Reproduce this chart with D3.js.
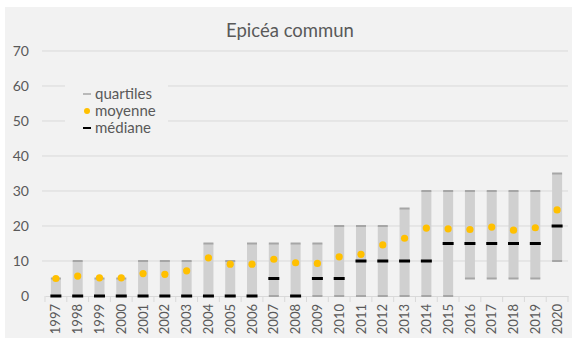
<!DOCTYPE html>
<html><head><meta charset="utf-8">
<script src="https://cdn.jsdelivr.net/npm/d3@7"></script>
<style>body{margin:0;background:#fff;}svg{display:block;font-family:Lato,"Open Sans",sans-serif;}</style>
</head><body>
<svg id="c" width="577" height="342"></svg>
<script>
const years = ["1997","1998","1999","2000","2001","2002","2003","2004","2005","2006","2007","2008","2009","2010","2011","2012","2013","2014","2015","2016","2017","2018","2019","2020"];
const q1 =    [0,0,0,0,0,0,0,0,0,0,0,0,0,0,0,0,0,0,0,5,5,5,5,10];
const q3 =    [5,10,5,5,10,10,10,15,10,15,15,15,15,20,20,20,25,30,30,30,30,30,30,35];
const mean =  [5.0,5.7,5.2,5.2,6.4,6.2,7.2,10.9,9.1,9.1,10.5,9.5,9.3,11.2,11.9,14.6,16.5,19.4,19.2,19.0,19.7,18.8,19.5,24.6];
const median =[0,0,0,0,0,0,0,0,0,0,5,0,5,5,10,10,10,10,15,15,15,15,15,20];
const yTicks = [0,10,20,30,40,50,60,70];
const title = "Epicéa commun";
const legendLabels = ["quartiles","moyenne","médiane"];

const svg = d3.select("#c");
svg.append("rect").attr("x",5).attr("y",7).attr("width",567).attr("height",331).attr("fill","#f2f2f2");

const x = d3.scaleBand().domain(years).range([45,568]).padding(0);
const y = d3.scaleLinear().domain([0,70]).range([296,51]);

// gridlines
svg.append("g").selectAll("line").data(yTicks.filter(d=>d>0)).join("line")
  .attr("x1",42).attr("x2",568).attr("y1",d=>y(d)).attr("y2",d=>y(d))
  .attr("stroke","#d9d9d9").attr("stroke-width",1);

// y labels
svg.append("g").selectAll("text").data(yTicks).join("text")
  .attr("x",29).attr("y",d=>y(d)).attr("dy","0.35em").attr("text-anchor","end")
  .attr("font-size",14).attr("fill","#595959").text(d=>d);

// x axis
const xAxis = d3.axisBottom(x).tickSize(0).tickSizeOuter(0);
const gx = svg.append("g").attr("transform","translate(0,296)").call(xAxis);
gx.select(".domain").attr("stroke","#d9d9d9");
gx.selectAll(".tick text").attr("transform","rotate(-90)").attr("text-anchor","end")
  .attr("x",-8).attr("y",0).attr("dy","0.35em").attr("font-size",13).attr("fill","#595959")
  .attr("font-family","Lato,'Open Sans',sans-serif");
// category boundary ticks
svg.append("g").selectAll("line").data(years.concat(["end"])).join("line")
  .attr("x1",(d,i)=>45+i*x.bandwidth()).attr("x2",(d,i)=>45+i*x.bandwidth())
  .attr("y1",296).attr("y2",302).attr("stroke","#d9d9d9");

const bw = 10;
const g = svg.append("g");
years.forEach((yr,i)=>{
  const cx = x(yr)+x.bandwidth()/2;
  g.append("rect").attr("x",cx-bw/2).attr("width",bw)
    .attr("y",y(q3[i])).attr("height",y(q1[i])-y(q3[i])).attr("fill","#d0d0d0");
  [q1[i],q3[i]].forEach(v=>{
    g.append("line").attr("x1",cx-bw/2).attr("x2",cx+bw/2).attr("y1",y(v)).attr("y2",y(v))
      .attr("stroke","#a6a6a6").attr("stroke-width",2);
  });
});
years.forEach((yr,i)=>{
  const cx = x(yr)+x.bandwidth()/2;
  g.append("line").attr("x1",cx-5.5).attr("x2",cx+5.5).attr("y1",y(median[i])).attr("y2",y(median[i]))
    .attr("stroke","#000").attr("stroke-width",3);
  g.append("circle").attr("cx",cx).attr("cy",y(mean[i])).attr("r",3.6).attr("fill","#ffc000");
});

// legend
const lg = svg.append("g");
lg.append("rect").attr("x",65).attr("y",82).attr("width",103).attr("height",56).attr("fill","#f2f2f2");
const ly = [94,111,128];
lg.append("line").attr("x1",83).attr("x2",91).attr("y1",ly[0]).attr("y2",ly[0]).attr("stroke","#a6a6a6").attr("stroke-width",1.5);
lg.append("circle").attr("cx",87).attr("cy",ly[1]).attr("r",3).attr("fill","#ffc000");
lg.append("line").attr("x1",83).attr("x2",91).attr("y1",ly[2]).attr("y2",ly[2]).attr("stroke","#000").attr("stroke-width",2);
lg.selectAll("text").data(legendLabels).join("text")
  .attr("x",95).attr("y",(d,i)=>ly[i]).attr("dy","0.35em").attr("font-size",15).attr("fill","#595959").text(d=>d);

svg.append("text").attr("x",290).attr("y",31).attr("dy","0.35em").attr("text-anchor","middle")
  .attr("font-size",18.5).attr("fill","#595959").text(title);
</script>
</body></html>
